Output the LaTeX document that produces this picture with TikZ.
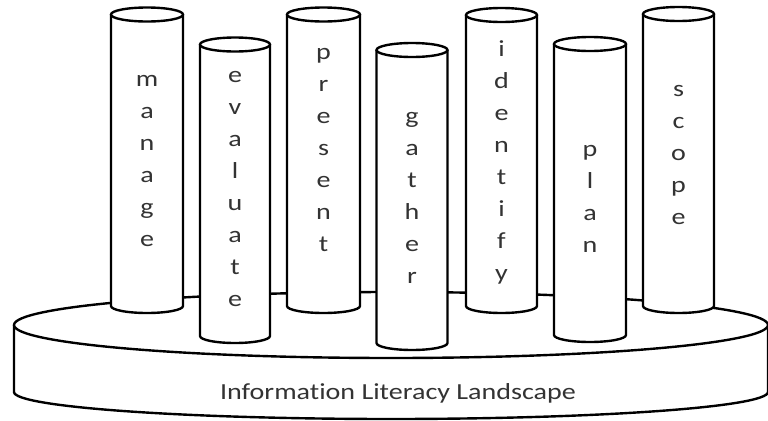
\documentclass[tikz,border=0pt]{standalone}
\usepackage{fontspec}
\setmainfont[FakeStretch=1.22,Ligatures=NoCommon]{Carlito}
\usepackage{tikz}

\begin{document}
\begin{tikzpicture}[x=0.5pt,y=0.5pt,
  pillar/.style={draw=black,fill=white,line width=1.2pt},
  disc/.style={draw=black,fill=white,line width=1.2pt},
  word/.style={font=\fontsize{11.5}{16}\selectfont,text=black!80,align=center,inner sep=0pt,anchor=north}]
\useasboundingbox (0,0) rectangle (768,420);

% the landscape disc
\draw[disc] (14,95) -- (14,28) arc[start angle=180,end angle=360,x radius=377,y radius=27] -- (768,95);
\draw[disc] (391,95) ellipse[x radius=377,y radius=33];
\node[font=\fontsize{11.5}{13}\selectfont,text=black!80,anchor=base] (landscape) at (398,21) {Information Literacy Landscape};

% the seven pillars
\draw[pillar] (111,405.5) -- (111,114) arc[start angle=180,end angle=360,x radius=36,y radius=7] -- (183,405.5);
\draw[pillar] (147,405.5) ellipse[x radius=36,y radius=7];
\draw[pillar] (200,375.5) -- (200,84) arc[start angle=180,end angle=360,x radius=35,y radius=7] -- (270,375.5);
\draw[pillar] (235,375.5) ellipse[x radius=35,y radius=7];
\draw[pillar] (287,405.5) -- (287,114) arc[start angle=180,end angle=360,x radius=36.5,y radius=7] -- (360,405.5);
\draw[pillar] (323.5,405.5) ellipse[x radius=36.5,y radius=7];
\draw[pillar] (376.5,370) -- (376.5,77) arc[start angle=180,end angle=360,x radius=35.5,y radius=7] -- (447.5,370);
\draw[pillar] (412,370) ellipse[x radius=35.5,y radius=7];
\draw[pillar] (466,405) -- (466,114) arc[start angle=180,end angle=360,x radius=35.5,y radius=7] -- (537,405);
\draw[pillar] (501.5,405) ellipse[x radius=35.5,y radius=7];
\draw[pillar] (554,376) -- (554,85) arc[start angle=180,end angle=360,x radius=36,y radius=7] -- (626,376);
\draw[pillar] (590,376) ellipse[x radius=36,y radius=7];
\draw[pillar] (643,406) -- (643,114) arc[start angle=180,end angle=360,x radius=35.5,y radius=7] -- (714,406);
\draw[pillar] (678.5,406) ellipse[x radius=35.5,y radius=7];

% words written down each pillar
\node[word] (manage) at (147,345) {m\\a\\n\\a\\g\\e};
\node[word] (evaluate) at (235,349) {e\\v\\a\\l\\u\\a\\t\\e};
\node[word] (present) at (323.5,372) {p\\r\\e\\s\\e\\n\\t};
\node[word] (gather) at (412,308) {g\\a\\t\\h\\e\\r};
\node[word] (identify) at (501.5,380) {i\\d\\e\\n\\t\\i\\f\\y};
\node[word] (plan) at (590,275) {p\\l\\a\\n};
\node[word] (scope) at (678.5,335) {s\\c\\o\\p\\e};

\end{tikzpicture}
\end{document}
